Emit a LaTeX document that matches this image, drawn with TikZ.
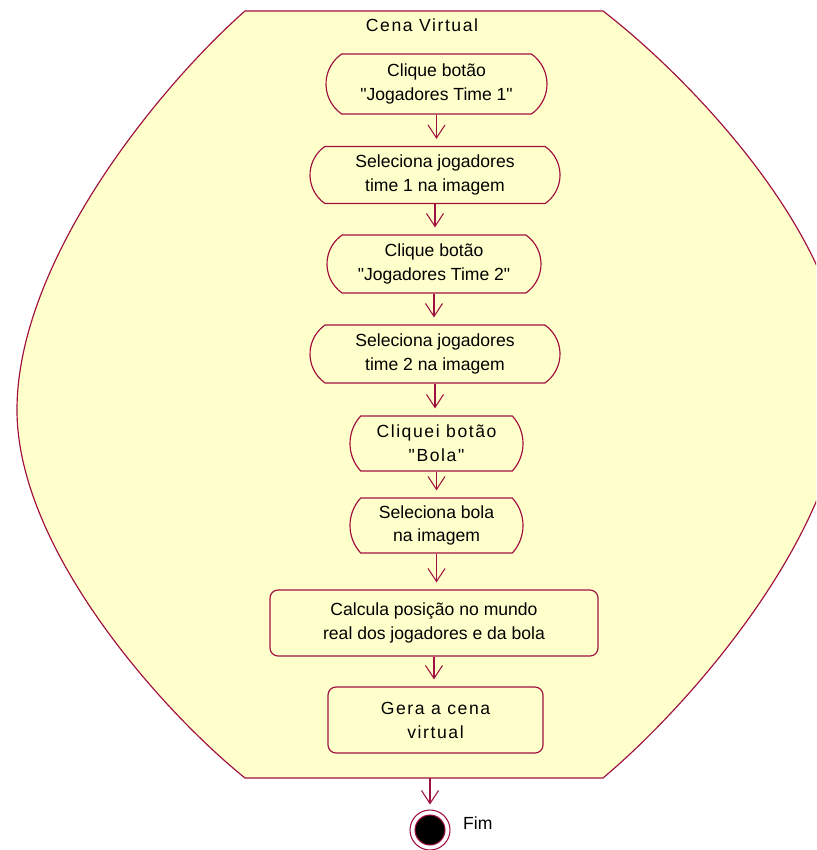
\documentclass[tikz,border=0pt]{standalone}
\usepackage{fontspec}
\setmainfont{Liberation Sans}[Ligatures=TeXOff]
\usetikzlibrary{shapes.misc,arrows.meta}
\definecolor{rosered}{RGB}{160,16,64}
\definecolor{roseyellow}{RGB}{255,255,204}
\begin{document}
\begin{tikzpicture}[x=0.03cm,y=-0.03cm,
  every node/.style={font=\fontsize{15}{20.4}\selectfont, align=center},
  act/.style={draw=rosered, fill=roseyellow, line width=1pt, rounded rectangle, rounded rectangle arc length=110, inner sep=0pt},
  actr/.style={draw=rosered, fill=roseyellow, line width=1pt, rectangle, rounded corners=0.24cm, inner sep=0pt},
  flow/.style={draw=rosered, line width=0.9pt, -{Straight Barb[length=3.9mm,width=5.1mm]}, shorten >=0.21cm},
  wide/.style={font=\fontsize{15}{20.4}\selectfont\addfontfeature{LetterSpace=9}}
]
\useasboundingbox (0,0) rectangle (816,850);
\clip (0,0) rectangle (816,850);
\fill[white] (0,0) rectangle (816,850);
% superstate Cena Virtual
\draw[rosered, fill=roseyellow, line width=1pt]
  (245,11) -- (603,11)
  .. controls (690,78) and (845,239) .. (845,378)
  .. controls (845,529) and (690,705) .. (603,778)
  -- (245,778)
  .. controls (162,711) and (17,549) .. (17,410)
  .. controls (17,259) and (162,84) .. (245,11) -- cycle;
\node[wide] (cena) at (422,25) {Cena Virtual};
\coordinate (sb) at (430,778);
% activities
\node[act, minimum width=6.63cm, minimum height=1.8cm] (a1) at (436.5,84) {Clique botão\\"Jogadores Time 1"};
\node[act, minimum width=7.5cm, minimum height=1.71cm] (a2) at (435,175) {Seleciona jogadores\\time 1 na imagem};
\node[act, minimum width=6.42cm, minimum height=1.74cm] (a3) at (434,264) {Clique botão\\"Jogadores Time 2"};
\node[act, minimum width=7.5cm, minimum height=1.74cm] (a4) at (435,354) {Seleciona jogadores\\time 2 na imagem};
\node[act, rounded rectangle arc length=85, minimum width=5.19cm, minimum height=1.65cm, wide] (a5) at (436.5,443.5) {Cliquei botão\\"Bola"};
\node[act, rounded rectangle arc length=85, minimum width=5.19cm, minimum height=1.65cm] (a6) at (436.5,525.5) {Seleciona bola\\na imagem};
\node[actr, minimum width=9.84cm, minimum height=1.98cm] (a7) at (434,623) {Calcula posição no mundo\\real dos jogadores e da bola};
\node[actr, minimum width=6.45cm, minimum height=1.98cm, wide] (a8) at (435.5,720) {Gera a cena\\virtual};
% final state
\node[circle, draw=rosered, line width=0.9pt, fill=white, minimum size=1.2cm, inner sep=0pt] (fim) at (430,830) {};
\node[circle, draw=rosered, line width=0.9pt, fill=black, minimum size=0.9cm, inner sep=0pt] (fimin) at (fim) {};
\node[anchor=west] (fimlbl) at (459,823) {Fim};
% transitions
\draw[flow] (a1.south) -- (a1.south |- a2.north);
\draw[flow] (a2.south) -- (a2.south |- a3.north);
\draw[flow] (a3.south) -- (a3.south |- a4.north);
\draw[flow] (a4.south) -- (a4.south |- a5.north);
\draw[flow] (a5.south) -- (a5.south |- a6.north);
\draw[flow] (a6.south) -- (a6.south |- a7.north);
\draw[flow] (a7.south) -- (a7.south |- a8.north);
\draw[flow, shorten >=0.15cm] (sb) -- (fim.north);
\end{tikzpicture}
\end{document}
